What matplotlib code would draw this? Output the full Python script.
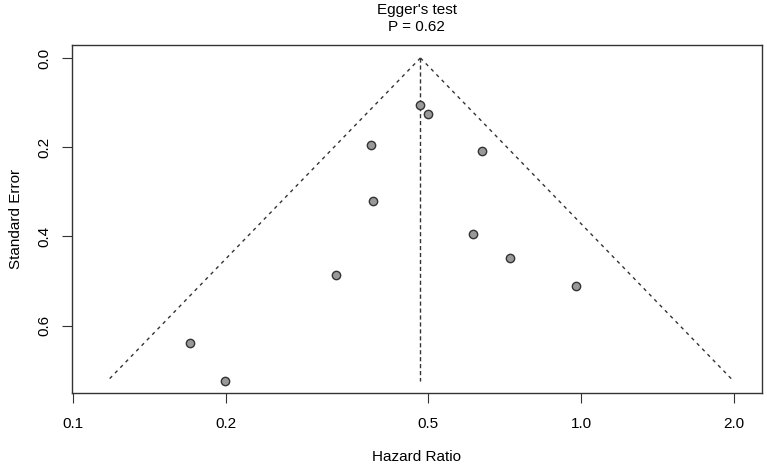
import numpy as np
import matplotlib
matplotlib.use("Agg")
import matplotlib.pyplot as plt
from matplotlib.ticker import FixedLocator, NullLocator

plt.rcParams['font.family'] = ['Liberation Sans', 'DejaVu Sans']

# study estimates
hazard_ratio = [0.481, 0.500, 0.386, 0.638, 0.390, 0.614, 0.726, 0.330, 0.979, 0.170, 0.1995]
std_error = [0.105, 0.126, 0.194, 0.209, 0.321, 0.394, 0.449, 0.487, 0.511, 0.638, 0.723]

pooled_hr = 0.483
funnel_z = 1.96
max_se = 0.723
egger_p = 0.62

x_ticks = [0.1, 0.2, 0.5, 1.0, 2.0]
x_tick_labels = ["0.1", "0.2", "0.5", "1.0", "2.0"]
y_ticks = [0.0, 0.2, 0.4, 0.6]

fig = plt.figure(figsize=(7.67, 4.65), dpi=100)
ax = fig.add_axes([0.0935, 0.1548, 0.8996, 0.7484])

# funnel boundaries (pseudo 95% CI)
se_line = np.array([0, max_se])
lo = np.exp(np.log(pooled_hr) - funnel_z * se_line)
hi = np.exp(np.log(pooled_hr) + funnel_z * se_line)
ax.plot(lo, se_line, color="#333333", lw=1, dashes=(2.5, 3))
ax.plot(hi, se_line, color="#333333", lw=1, dashes=(2.5, 3))
ax.plot([pooled_hr, pooled_hr], se_line, color="#333333", lw=1, dashes=(3, 2))

ax.scatter(hazard_ratio, std_error, s=36, c="#999999", edgecolors="#333333",
           linewidths=1, zorder=3)

ax.set_xscale("log")
ax.set_xlim(0.0994, 2.269)
ax.set_ylim(0.751, -0.029)

ax.xaxis.set_major_locator(FixedLocator(x_ticks))
ax.xaxis.set_minor_locator(NullLocator())
ax.set_xticklabels(x_tick_labels)
ax.set_yticks(y_ticks)
ax.set_yticklabels([f"{v:.1f}" for v in y_ticks], rotation=90, va="center")

ax.tick_params(axis="both", labelsize=11, length=7, width=0.8, color="#333333")
ax.tick_params(axis="x", pad=10)
ax.tick_params(axis="y", pad=8)
for sp in ax.spines.values():
    sp.set_color("#333333")
    sp.set_linewidth(1)

ax.set_xlabel("Hazard Ratio", fontsize=11, labelpad=14)
ax.set_ylabel("Standard Error", fontsize=11, labelpad=10)
ax.set_title(f"Egger's test\nP = {egger_p}", fontsize=11, pad=10, linespacing=1.25)

fig.savefig("out.png", dpi=100)
